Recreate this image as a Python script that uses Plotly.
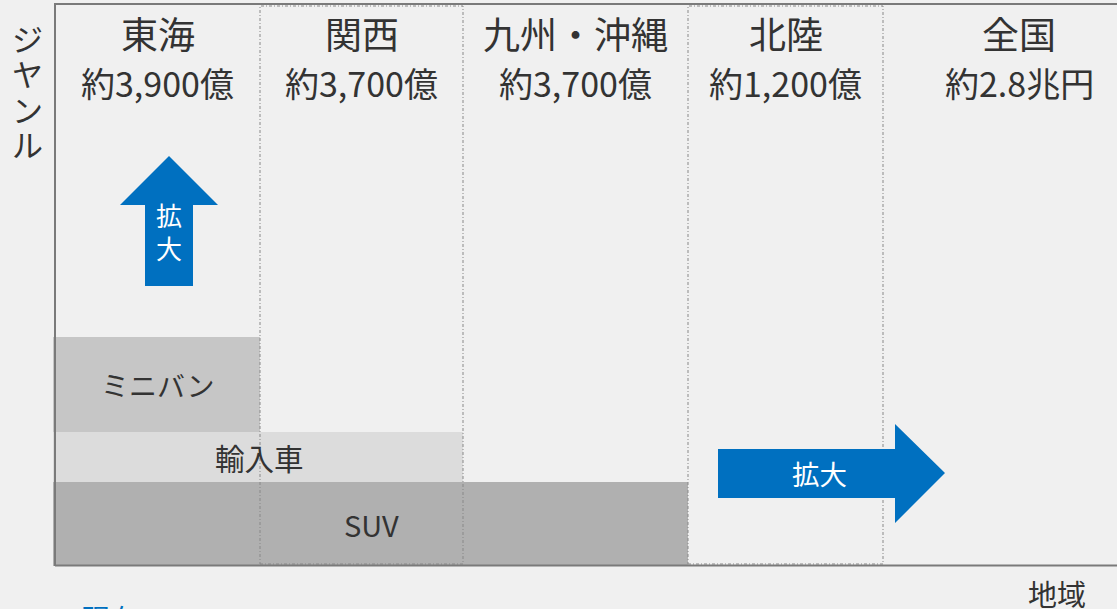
import plotly.graph_objects as go

# ---------------- data ----------------
regions = ["東海", "関西", "九州・沖縄", "北陸", "全国"]
market_size = ["約3,900億", "約3,700億", "約3,700億", "約1,200億", "約2.8兆円"]
genres = ["SUV", "輸入車", "ミニバン"]
genre_depth = [84, 50, 95]      # thickness of each genre band (stacked from bottom)
genre_reach = [3, 2, 1]         # number of regions (from 東海) each genre covers
boxed_regions = ["関西", "北陸"]
growth_label = "拡大"
x_axis_label = "地域"
y_axis_label = "ジヤンル"
now_label = "現在"

# ---------------- layout / style ----------------
W, H = 1117, 609
BG = "#f0f0f0"
TXT = "#333333"
BLUE = "#0070C0"
FRAME = "#7a7a7a"
FONT = "Noto Sans CJK JP"
genre_colors = {"SUV": "#b0b0b0", "輸入車": "#dcdcdc", "ミニバン": "#c6c6c6"}
genre_font = {"SUV": 29, "輸入車": 29.5, "ミニバン": 28}
region_edges = [55, 260, 463, 688, 883, 1155]   # pixel-like x scale
BASE_Y = 609 - 566    # bottom of frame in y units
TOP_Y = 609 - 4

fig = go.Figure()

# genre bands as horizontal bars
cum = BASE_Y
band_centers = []
for g, d, r in zip(genres, genre_depth, genre_reach):
    center = cum + d / 2
    band_centers.append(center)
    x0 = region_edges[0] - 2
    fig.add_trace(go.Bar(
        orientation="h", y=[center], x=[region_edges[r] - x0], base=[x0],
        width=[d], marker=dict(color=genre_colors[g], line=dict(width=0)),
        hoverinfo="skip", showlegend=False,
    ))
    cum += d

annotations = []
for g, c, r in zip(genres, band_centers, genre_reach):
    annotations.append(dict(
        x=(region_edges[0] + region_edges[r]) / 2, y=c, text=g, showarrow=False,
        xref="x", yref="y", font=dict(size=genre_font[g], color=TXT, family=FONT),
        xanchor="center", yanchor="middle"))

# region titles
for i, (reg, ms) in enumerate(zip(regions, market_size)):
    cx = (region_edges[i] + region_edges[i + 1]) / 2
    annotations.append(dict(x=cx, y=609 - 33, text=reg, showarrow=False,
                            font=dict(size=37, color=TXT, family=FONT),
                            xanchor="center", yanchor="middle"))
    annotations.append(dict(x=cx, y=609 - 82, text=ms, showarrow=False,
                            font=dict(size=34, color=TXT, family=FONT),
                            xanchor="center", yanchor="middle"))

shapes = []
# dotted region boxes
for reg in boxed_regions:
    i = regions.index(reg)
    shapes.append(dict(type="rect", x0=region_edges[i], x1=region_edges[i + 1],
                       y0=609 - 564, y1=609 - 6, xref="x", yref="y",
                       line=dict(color="#888888", width=1, dash="3px,2px,1px,2px"),
                       fillcolor="rgba(0,0,0,0)", layer="above"))

# frame
shapes.append(dict(type="line", x0=region_edges[0], x1=W, y0=TOP_Y, y1=TOP_Y,
                   line=dict(color=FRAME, width=2), layer="above"))
shapes.append(dict(type="line", x0=region_edges[0], x1=W, y0=BASE_Y + 0.5, y1=BASE_Y + 0.5,
                   line=dict(color=FRAME, width=2), layer="above"))
shapes.append(dict(type="line", x0=region_edges[0], x1=region_edges[0], y0=BASE_Y, y1=TOP_Y + 1,
                   line=dict(color=FRAME, width=2), layer="above"))

# up arrow (genre growth)
ux, tip, hb, bot = 169, 609 - 156, 609 - 205, 609 - 286
up_path = (f"M {ux},{tip} L 218,{hb} L 193,{hb} L 193,{bot} L 145,{bot} "
           f"L 145,{hb} L 120,{hb} Z")
shapes.append(dict(type="path", path=up_path, fillcolor=BLUE, line=dict(width=0),
                   xref="x", yref="y", layer="above"))
annotations.append(dict(x=ux, y=609 - 214, text=growth_label[0], showarrow=False,
                        font=dict(size=26, color="white", family=FONT)))
annotations.append(dict(x=ux, y=609 - 247, text=growth_label[1], showarrow=False,
                        font=dict(size=26, color="white", family=FONT)))

# right arrow (region growth)
ry = 609 - 473
right_path = (f"M 718,{609-449} L 895,{609-449} L 895,{609-424} L 945,{ry} "
              f"L 895,{609-523} L 895,{609-498} L 718,{609-498} Z")
shapes.append(dict(type="path", path=right_path, fillcolor=BLUE, line=dict(width=0),
                   xref="x", yref="y", layer="above"))
annotations.append(dict(x=819, y=ry, text=growth_label, showarrow=False,
                        font=dict(size=27.5, color="white", family=FONT)))

# axis labels
for k, ch in enumerate(y_axis_label):
    annotations.append(dict(x=27, y=609 - (37 + 35.5 * k), text=ch, showarrow=False,
                            font=dict(size=31, color=TXT, family=FONT)))
annotations.append(dict(x=1057, y=609 - 593, text=x_axis_label, showarrow=False,
                        font=dict(size=29, color=TXT, family=FONT)))
annotations.append(dict(x=110 / W, y=-8.5 / H, xref="paper", yref="paper",
                        xanchor="center", yanchor="middle",
                        text=now_label, showarrow=False,
                        font=dict(size=28, color=BLUE, family=FONT)))

fig.update_layout(
    width=W, height=H, margin=dict(l=0, r=0, t=0, b=0),
    paper_bgcolor=BG, plot_bgcolor=BG,
    barmode="overlay", bargap=0,
    xaxis=dict(range=[0, W], visible=False, fixedrange=True),
    yaxis=dict(range=[0, H], visible=False, fixedrange=True),
    shapes=shapes, annotations=annotations, showlegend=False,
)

fig.write_html(
    "out.html",
    config={"displayModeBar": False},
    post_script="document.body.style.margin='0';document.body.style.overflow='hidden';"
                "document.body.style.background='#f0f0f0';",
)
